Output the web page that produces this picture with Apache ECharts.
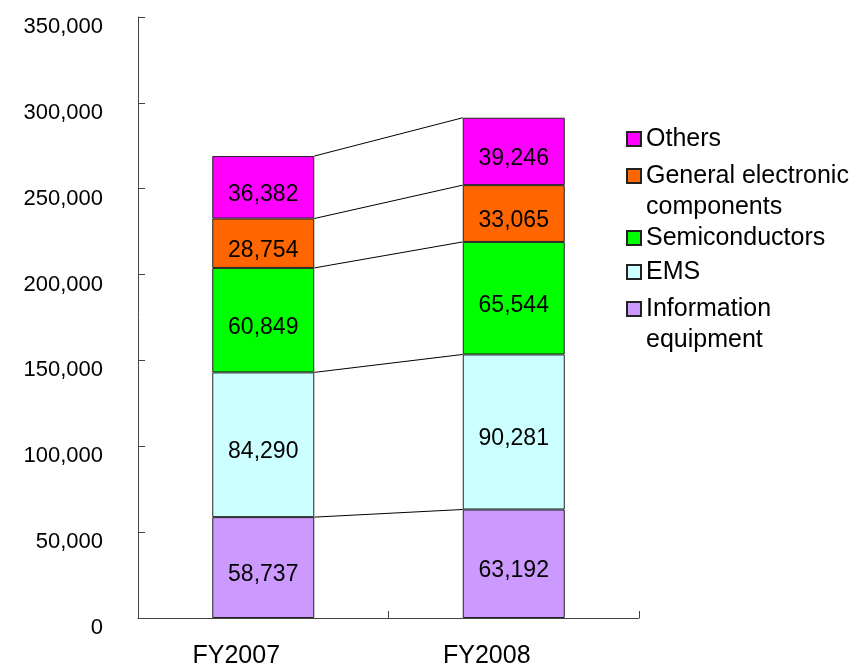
<!DOCTYPE html>
<html><head><meta charset="utf-8">
<script src="https://cdn.jsdelivr.net/npm/echarts@6/dist/echarts.min.js"></script>
<style>html,body{margin:0;padding:0;background:#fff}#c{width:865px;height:669px}</style>
</head><body><div id="c"></div>
<script>
const categories = ['FY2007', 'FY2008'];
const infoEquipment = [58737, 63192];
const ems = [84290, 90281];
const semiconductors = [60849, 65544];
const generalComponents = [28754, 33065];
const others = [36382, 39246];
const seriesNames = ['Information equipment', 'EMS', 'Semiconductors', 'General electronic components', 'Others'];
const legendLabels = ['Information\nequipment', 'EMS', 'Semiconductors', 'General electronic\ncomponents', 'Others'];
const seriesValues = [infoEquipment, ems, semiconductors, generalComponents, others];
const colors = ['#CC99FF', '#CCFFFF', '#00FF00', '#FF6600', '#FF00FF'];

const FONT = 'Liberation Sans, Arial, sans-serif';
const fmt = v => v.toLocaleString('en-US');

// cumulative tops for connector lines
const connectorData = [];
let c0 = 0, c1 = 0;
seriesValues.forEach(arr => { c0 += arr[0]; c1 += arr[1]; connectorData.push([0, c0, c1]); });

const barWidth = 102;
const series = seriesNames.map((name, i) => ({
  name, type: 'bar', stack: 'total', barWidth,
  data: seriesValues[i],
  itemStyle: { color: colors[i], borderColor: '#222', borderWidth: 1 },
  label: { show: true, position: 'inside', offset: [0, 7], color: '#000', fontFamily: FONT, fontSize: 23,
           formatter: p => fmt(p.value) },
  emphasis: { disabled: true }
}));
series.push({
  type: 'custom', name: 'connector', silent: true,
  encode: { x: 0, y: [1, 2] },
  data: connectorData,
  renderItem: (params, api) => {
    const p1 = api.coord([0, api.value(1)]);
    const p2 = api.coord([1, api.value(2)]);
    return { type: 'line', shape: { x1: p1[0] + barWidth / 2, y1: p1[1], x2: p2[0] - barWidth / 2, y2: p2[1] },
             style: { stroke: '#000', lineWidth: 1 } };
  }
});

const LH = 31;
const legendCenters = { 'Others': 139, 'General electronic components': 176, 'Semiconductors': 238, 'EMS': 272, 'Information equipment': 309 };
const legends = seriesNames.map((name, i) => {
  const twoLine = legendLabels[i].includes('\n');
  const c = legendCenters[name];
  return {
    data: [name],
    orient: 'vertical', left: 626, top: twoLine ? c - LH * 1.5 : c - LH / 2, padding: 0,
    itemWidth: 14, itemHeight: 14, itemGap: 8, selectedMode: false, icon: 'rect',
    formatter: () => twoLine ? ' \n' + legendLabels[i] : legendLabels[i],
    textStyle: { fontFamily: FONT, fontSize: 25, color: '#000', lineHeight: LH }
  };
});

const chart = echarts.init(document.getElementById('c'), null, { renderer: 'canvas' });
chart.setOption({
  animation: false,
  backgroundColor: '#fff',
  grid: { left: 138, right: 226, top: 17, bottom: 51 },
  legend: legends,
  xAxis: {
    type: 'category', data: categories,
    axisLine: { lineStyle: { color: '#444', width: 1 } },
    axisTick: { show: true, inside: true, length: 7, lineStyle: { color: '#444' } },
    axisLabel: { color: '#000', fontFamily: FONT, fontSize: 25, margin: 26,
                 formatter: v => '{a|' + v + '}',
                 rich: { a: { fontFamily: FONT, fontSize: 25, color: '#000', padding: [0, 54, 0, 0] } } }
  },
  yAxis: {
    type: 'value', min: 0, max: 350000, interval: 50000,
    splitLine: { show: false },
    axisLine: { show: true, lineStyle: { color: '#444', width: 1 } },
    axisTick: { show: true, inside: true, length: 7, lineStyle: { color: '#444' } },
    axisLabel: { color: '#000', fontFamily: FONT, fontSize: 22, margin: 35, verticalAlign: 'top', lineHeight: 20,
                 formatter: v => fmt(v) }
  },
  series
});
</script></body></html>
